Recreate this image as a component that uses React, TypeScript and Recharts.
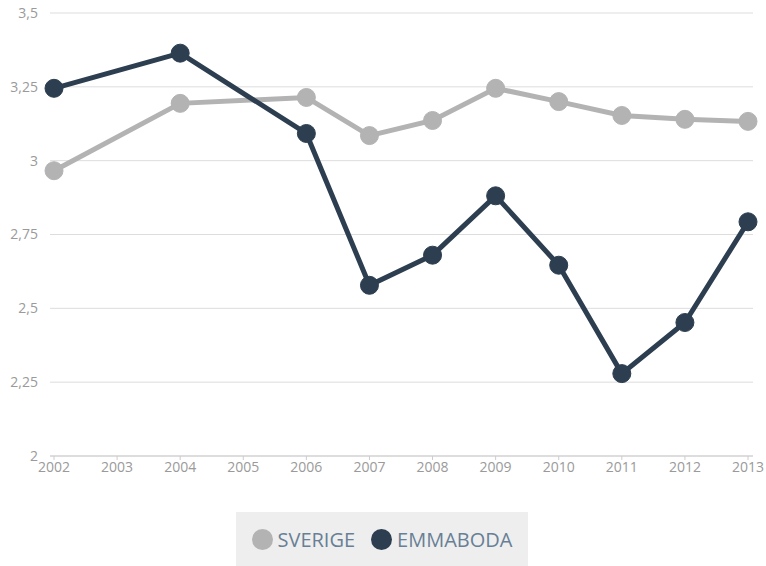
import { LineChart, Line, XAxis, YAxis, CartesianGrid, Legend } from 'recharts';

const years = ['2002', '2003', '2004', '2005', '2006', '2007', '2008', '2009', '2010', '2011', '2012', '2013'];
const sverige = [2.966, null, 3.194, null, 3.214, 3.085, 3.136, 3.245, 3.2, 3.153, 3.14, 3.133];
const emmaboda = [3.245, null, 3.364, null, 3.092, 2.578, 2.68, 2.881, 2.646, 2.279, 2.452, 2.793];
const yTicks = [2, 2.25, 2.5, 2.75, 3, 3.25, 3.5];

const series = [
  { key: 'sverige', name: 'SVERIGE', color: '#b3b3b3' },
  { key: 'emmaboda', name: 'EMMABODA', color: '#2c3e50' },
];

const chartData = years.map((year, i) => ({
  year,
  sverige: sverige[i],
  emmaboda: emmaboda[i],
}));

const fmt = (v: number) => String(v).replace('.', ',');

function LegendBox() {
  return (
    <div
      style={{
        display: 'flex',
        alignItems: 'center',
        justifyContent: 'center',
        height: 54,
        background: '#eeeeee',
        fontFamily: '"Open Sans", sans-serif',
        fontSize: 20,
        color: '#687f96',
      }}
    >
      {series.map((s) => (
        <div key={s.key} style={{ display: 'flex', alignItems: 'center', margin: '0 8px' }}>
          <span
            style={{
              display: 'inline-block',
              width: 21,
              height: 21,
              borderRadius: '50%',
              background: s.color,
              marginRight: 5,
            }}
          />
          {s.name}
        </div>
      ))}
    </div>
  );
}

export default function App() {
  return (
    <div style={{ position: 'absolute', left: 0, top: 0, width: 766, height: 566, background: '#fff' }}>
      <LineChart width={766} height={566} data={chartData} margin={{ top: 13, right: 13, left: 0, bottom: 26 }}>
        <CartesianGrid vertical={false} stroke="#dddddd" />
        <XAxis
          dataKey="year"
          padding={{ left: 4, right: 5 }}
          height={30}
          stroke="#cccccc"
          tickSize={4}
          tickMargin={2}
          tick={{ fill: '#9a9a9a', fontSize: 14, fontFamily: '"Open Sans", sans-serif' }}
        />
        <YAxis
          width={50}
          domain={[2, 3.5]}
          ticks={yTicks}
          tickFormatter={fmt}
          axisLine={false}
          tickLine={false}
          tickSize={0}
          tickMargin={12}
          tick={{ fill: '#9a9a9a', fontSize: 14, fontFamily: '"Open Sans", sans-serif' }}
        />
        <Legend
          content={() => <LegendBox />}
          wrapperStyle={{ left: 236, top: 512, width: 292, height: 54 }}
        />
        {series.map((s) => (
          <Line
            key={s.key}
            dataKey={s.key}
            name={s.name}
            stroke={s.color}
            strokeWidth={5}
            connectNulls
            dot={{ r: 9, fill: s.color, stroke: s.color, strokeWidth: 1 }}
            activeDot={false}
            isAnimationActive={false}
          />
        ))}
      </LineChart>
    </div>
  );
}
